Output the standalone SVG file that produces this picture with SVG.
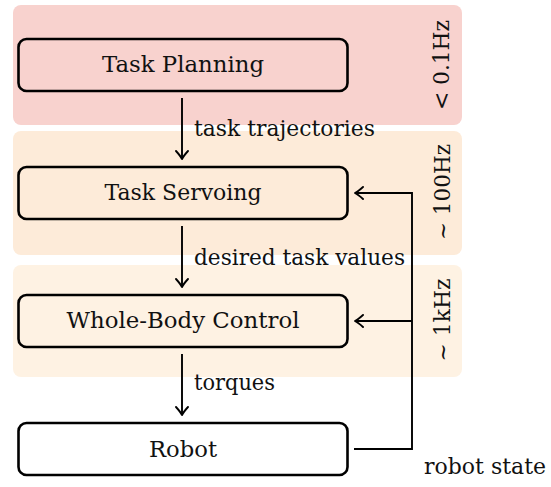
<svg xmlns="http://www.w3.org/2000/svg" width="551" height="487" viewBox="0 0 551 487">
<style>
.band{stroke:none}
.node{fill:none;stroke:#000;stroke-width:2.6}
.t{font-family:"DejaVu Serif","Liberation Serif","Times New Roman",serif;font-size:23px;fill:#111}
.c{text-anchor:middle}
.conn{fill:none;stroke:#000;stroke-width:1.9}
</style>
<defs>
<marker id="ah" viewBox="-10 -7 12 14" markerWidth="12" markerHeight="14" refX="0" refY="0" orient="auto" markerUnits="userSpaceOnUse">
<path d="M-8,-6 Q-3,-1.5 0,0 Q-3,1.5 -8,6" fill="none" stroke="#000" stroke-width="1.9" stroke-linecap="round" stroke-linejoin="round"/>
</marker>
</defs>
<g id="bands">
<rect class="band" x="13" y="5" width="449" height="120" rx="8" fill="#f8d2ce"/>
<rect class="band" x="13" y="131" width="449" height="124" rx="8" fill="#fdebd9"/>
<rect class="band" x="13" y="265" width="449" height="112" rx="8" fill="#fef2e3"/>
<text class="t c" transform="translate(449,65) rotate(-90)" textLength="90" lengthAdjust="spacingAndGlyphs">&lt; 0.1Hz</text>
<text class="t c" transform="translate(450,192) rotate(-90)" textLength="96" lengthAdjust="spacingAndGlyphs">~ 100Hz</text>
<text class="t c" transform="translate(450,320) rotate(-90)" textLength="83" lengthAdjust="spacingAndGlyphs">~ 1kHz</text>
</g>
<g id="task-planning">
<rect class="node" x="18.5" y="39" width="329" height="52" rx="8"/>
<text class="t c" x="183" y="72" textLength="162" lengthAdjust="spacingAndGlyphs">Task Planning</text>
</g>
<g id="task-servoing">
<rect class="node" x="18.5" y="167" width="329" height="52" rx="8"/>
<text class="t c" x="183" y="200" textLength="157" lengthAdjust="spacingAndGlyphs">Task Servoing</text>
</g>
<g id="whole-body-control">
<rect class="node" x="18.5" y="295" width="329" height="52" rx="8"/>
<text class="t c" x="183" y="328" textLength="233" lengthAdjust="spacingAndGlyphs">Whole-Body Control</text>
</g>
<g id="robot">
<rect class="node" x="18.5" y="423" width="329" height="52" rx="8" fill="#fff"/>
<text class="t c" x="183" y="457" textLength="68" lengthAdjust="spacingAndGlyphs">Robot</text>
</g>
<g id="connectors">
<path class="conn" d="M182,98 V159" marker-end="url(#ah)"/>
<path class="conn" d="M182,226 V287" marker-end="url(#ah)"/>
<path class="conn" d="M182,354 V415" marker-end="url(#ah)"/>
<path class="conn" d="M354,449 H412 V193 H355" marker-end="url(#ah)"/>
<path class="conn" d="M412,321 H355" marker-end="url(#ah)"/>
<text class="t" x="194" y="136" textLength="181" lengthAdjust="spacingAndGlyphs">task trajectories</text>
<text class="t" x="194" y="265" textLength="211" lengthAdjust="spacingAndGlyphs">desired task values</text>
<text class="t" x="194" y="390" textLength="81" lengthAdjust="spacingAndGlyphs">torques</text>
<text class="t" x="424" y="474" textLength="122" lengthAdjust="spacingAndGlyphs">robot state</text>
</g>
</svg>
